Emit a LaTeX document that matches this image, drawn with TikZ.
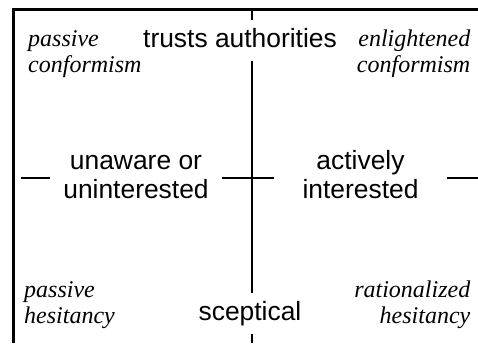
\documentclass[tikz,border=0pt]{standalone}
\usepackage{fontspec}
\setmainfont{Liberation Sans}
\newfontfamily\quadfont{Liberation Serif}
\usetikzlibrary{calc}

\begin{document}
\begin{tikzpicture}
[x=1pt,y=-1pt,%
  axis/.style={line width=1.8pt},%
  pole/.style={font=\fontsize{26.4}{29}\selectfont,inner xsep=0pt,inner ysep=8pt,
    text height=19pt,text depth=6pt},%
  side/.style={font=\fontsize{26.4}{29}\selectfont,inner sep=0pt,align=center,
    minimum width=172pt},%
  quad/.style={font=\quadfont\itshape\fontsize{24}{26}\selectfont,inner sep=0pt}]
\useasboundingbox (0,0) rectangle (478,343);
\draw[line width=3pt] (13.5,343) -- (13.5,9.5) -- (478,9.5);

\node[pole,anchor=base] (trusts) at (240,47) {trusts authorities};
\node[pole,anchor=base] (sceptical) at (250,320) {sceptical};
\coordinate (vtop) at (252,9.5);
\coordinate (vbot) at (252,343);
\draw[axis] (vtop) -- (vtop |- trusts.north);
\draw[axis] (vtop |- trusts.south) -- (vtop |- sceptical.north);
\draw[axis] (vtop |- sceptical.south) -- (vbot);

\node[side,anchor=base] (unaware) at (136,198) {unaware or\\uninterested};
\node[side,anchor=base] (actively) at (360.5,198) {actively\\interested};
\coordinate (hleft) at (21,178);
\coordinate (hright) at (478,178);
\draw[axis] (hleft) -- (hleft -| unaware.west);
\draw[axis] (hleft -| unaware.east) -- (hleft -| actively.west);
\draw[axis] (hleft -| actively.east) -- (hright);

\node[quad,anchor=base west,align=left] (pconf) at (28,72) {passive\\conformism};
\node[quad,anchor=base east,align=right] (econf) at (470.5,72) {enlightened\\conformism};
\node[quad,anchor=base west,align=left] (phes) at (24,323) {passive\\hesitancy};
\node[quad,anchor=base east,align=right] (rhes) at (470.5,323) {rationalized\\hesitancy};
\end{tikzpicture}
\end{document}
